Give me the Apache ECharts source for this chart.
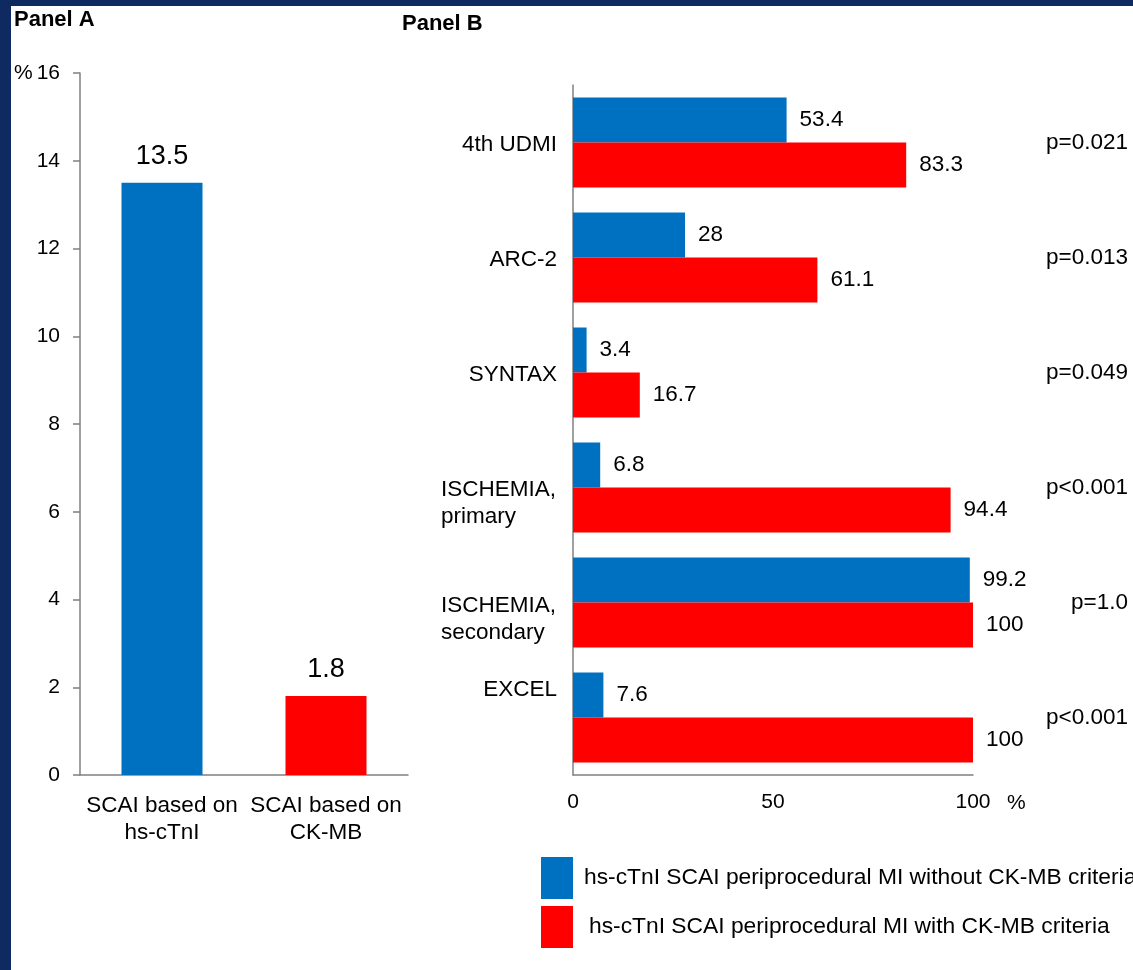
<!DOCTYPE html>
<html>
<head>
<meta charset="utf-8">
<script src="https://cdn.jsdelivr.net/npm/echarts@6/dist/echarts.min.js"></script>
<style>
  html, body { margin: 0; padding: 0; background: #ffffff; }
  #chart { position: absolute; left: 0; top: 0; width: 1133px; height: 970px; background: #ffffff; }
  .frame { position: absolute; background: #0f2a60; z-index: 5; }
</style>
</head>
<body>
<div id="chart"></div>
<div class="frame" style="left:0;top:0;width:1133px;height:6px;"></div>
<div class="frame" style="left:0;top:0;width:11px;height:970px;"></div>
<script>
// Panel A: overall SCAI periprocedural MI rates
const panelACategories = ['SCAI based on\nhs-cTnI', 'SCAI based on\nCK-MB'];
const panelAValues = [13.5, 1.8];

// Panel B: agreement with other definitions
const panelBCategories = ['4th UDMI', 'ARC-2', 'SYNTAX', 'ISCHEMIA,\nprimary', 'ISCHEMIA,\nsecondary', 'EXCEL'];
const withoutCkmbValues = [53.4, 28, 3.4, 6.8, 99.2, 7.6];
const withCkmbValues = [83.3, 61.1, 16.7, 94.4, 100, 100];
const pValueLabels = ['p=0.021', 'p=0.013', 'p=0.049', 'p<0.001', 'p=1.0', 'p<0.001'];
const seriesNames = [
  'hs-cTnI SCAI periprocedural MI without CK-MB criteria',
  'hs-cTnI SCAI periprocedural MI with CK-MB criteria'
];

const BLUE = '#0070c0';
const RED = '#ff0000';
const AXIS = '#808080';
const FONT = '"Liberation Sans", Arial, sans-serif';
const FS = 22.5;

// vertical nudges (px, positive = down) for the category and p-value labels
const categoryShift = [2, 2, 2, 16, 17, -28];
const pValueShift = [0, 0, 0, 3, 6, 2];

function shiftPadding(d) {
  return d >= 0 ? [2 * d, 0, 0, 0] : [0, 0, -2 * d, 0];
}

// width of the longest line among the two-line category labels
function longestLineWidth(labels, size) {
  const ctx = document.createElement('canvas').getContext('2d');
  ctx.font = size + 'px ' + FONT;
  let w = 0;
  labels.filter(l => l.includes('\n')).forEach(l => {
    l.split('\n').forEach(s => { w = Math.max(w, ctx.measureText(s).width); });
  });
  return Math.ceil(w);
}
const blockWidth = longestLineWidth(panelBCategories, FS);

const chart = echarts.init(document.getElementById('chart'));

const option = {
  backgroundColor: '#ffffff',
  animation: false,
  title: [
    { text: 'Panel A', left: 14, top: 9, padding: 0,
      textStyle: { fontFamily: FONT, fontWeight: 'bold', fontSize: 22, color: '#000' } },
    { text: 'Panel B', left: 402, top: 13, padding: 0,
      textStyle: { fontFamily: FONT, fontWeight: 'bold', fontSize: 22, color: '#000' } }
  ],
  legend: {
    data: [
      { name: seriesNames[0], textStyle: { padding: [0, 0, 0, 6] } },
      { name: seriesNames[1], textStyle: { padding: [0, 0, 0, 11] } }
    ],
    orient: 'vertical',
    left: 541,
    top: 857,
    padding: 0,
    itemWidth: 32,
    itemHeight: 42,
    itemGap: 7,
    icon: 'rect',
    selectedMode: false,
    textStyle: { fontFamily: FONT, fontSize: 22.8, color: '#000' }
  },
  grid: [
    { left: 80, top: 73, width: 328, height: 702, outerBoundsMode: 'none' },
    { left: 573, top: 85, width: 400, height: 690, outerBoundsMode: 'none' }
  ],
  xAxis: [
    {
      gridIndex: 0, type: 'category', data: panelACategories,
      axisLine: { lineStyle: { color: AXIS, width: 1.5 } },
      axisTick: { show: false },
      axisLabel: { interval: 0, fontFamily: FONT, fontSize: FS, lineHeight: 27, color: '#000', margin: 17 }
    },
    {
      gridIndex: 1, type: 'value', min: 0, max: 100, interval: 50,
      name: '%', nameLocation: 'end', nameGap: 34,
      nameTextStyle: { fontFamily: FONT, fontSize: 21, color: '#000', verticalAlign: 'top', lineHeight: 56 },
      axisLine: { show: true, lineStyle: { color: AXIS, width: 1.5 } },
      axisTick: { show: false },
      splitLine: { show: false },
      axisLabel: { fontFamily: FONT, fontSize: 21, color: '#000', margin: 17 }
    }
  ],
  yAxis: [
    {
      gridIndex: 0, type: 'value', min: 0, max: 16, interval: 2,
      axisLine: { show: true, lineStyle: { color: AXIS, width: 1.5 } },
      axisTick: { show: true, length: 7, lineStyle: { color: AXIS, width: 1.5 } },
      splitLine: { show: false },
      axisLabel: {
        fontFamily: FONT, fontSize: 21, color: '#000', margin: 20,
        formatter: v => (v === 16 ? '{pc|%}16' : String(v)),
        rich: { pc: { fontFamily: FONT, fontSize: 21, color: '#000', padding: [0, 4, 0, 0] } }
      }
    },
    {
      gridIndex: 1, type: 'category', inverse: true,
      data: panelBCategories.map((c, i) => ({
        value: c,
        textStyle: { align: 'right', padding: shiftPadding(categoryShift[i]) }
      })),
      axisLine: { show: true, lineStyle: { color: AXIS, width: 1.5 } },
      axisTick: { show: false },
      axisLabel: {
        interval: 0, fontFamily: FONT, fontSize: FS, lineHeight: 27, color: '#000', margin: 16,
        formatter: v => v.includes('\n')
          ? v.split('\n').map(s => '{l|' + s + '}').join('\n')
          : v,
        rich: {
          l: { width: blockWidth, align: 'left', fontFamily: FONT, fontSize: FS, lineHeight: 27, color: '#000' }
        }
      }
    },
    {
      gridIndex: 1, type: 'category', inverse: true, position: 'right',
      data: pValueLabels.map((p, i) => ({
        value: p,
        textStyle: { align: 'right', padding: shiftPadding(pValueShift[i]) }
      })),
      axisLine: { show: false },
      axisTick: { show: false },
      axisLabel: { interval: 0, fontFamily: FONT, fontSize: FS, color: '#000', align: 'right', margin: 155 }
    }
  ],
  series: [
    {
      type: 'bar', xAxisIndex: 0, yAxisIndex: 0, barWidth: 81,
      data: panelAValues.map((v, i) => ({ value: v, itemStyle: { color: i === 0 ? BLUE : RED } })),
      label: { show: true, position: 'top', distance: 13, fontFamily: FONT, fontSize: 27, color: '#000' }
    },
    {
      name: seriesNames[0], type: 'bar', xAxisIndex: 1, yAxisIndex: 1,
      barWidth: 45, barGap: '0%', itemStyle: { color: BLUE },
      data: withoutCkmbValues,
      label: { show: true, position: 'right', distance: 13, fontFamily: FONT, fontSize: 22.5, color: '#000' }
    },
    {
      name: seriesNames[1], type: 'bar', xAxisIndex: 1, yAxisIndex: 1,
      barWidth: 45, barGap: '0%', itemStyle: { color: RED },
      data: withCkmbValues,
      label: { show: true, position: 'right', distance: 13, fontFamily: FONT, fontSize: 22.5, color: '#000' }
    }
  ]
};

chart.setOption(option);
</script>
</body>
</html>
